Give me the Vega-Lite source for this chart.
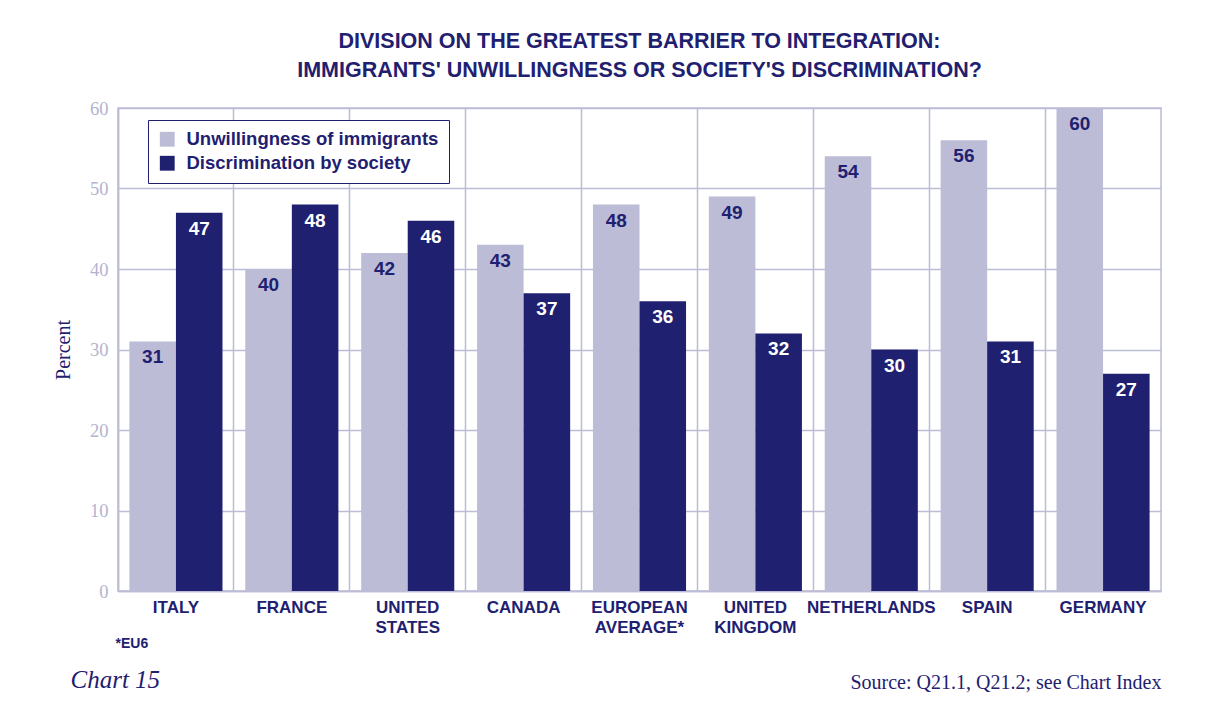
{
  "$schema": "https://vega.github.io/schema/vega-lite/v6.json",
  "width": 1043,
  "height": 483,
  "autosize": {"type": "none"},
  "padding": {"left": 118, "top": 108, "right": 59, "bottom": 120},
  "background": "white",
  "title": {
    "text": ["DIVISION ON THE GREATEST BARRIER TO INTEGRATION:", "IMMIGRANTS' UNWILLINGNESS OR SOCIETY'S DISCRIMINATION?"],
    "font": "Liberation Sans",
    "fontSize": 21.5,
    "fontWeight": "bold",
    "color": "#1f2070",
    "anchor": "middle",
    "lineHeight": 28.5,
    "offset": 18
  },
  "config": {
    "view": {"stroke": "#bcbcd6", "strokeWidth": 1.5},
    "axis": {"gridColor": "#bcbcd6", "gridWidth": 1.5, "gridOpacity": 1}
  },
  "data": {
    "values": [
      {"Country": "ITALY", "Series": "Unwillingness of immigrants", "Value": 31},
      {"Country": "ITALY", "Series": "Discrimination by society", "Value": 47},
      {"Country": "FRANCE", "Series": "Unwillingness of immigrants", "Value": 40},
      {"Country": "FRANCE", "Series": "Discrimination by society", "Value": 48},
      {"Country": "UNITED STATES", "Series": "Unwillingness of immigrants", "Value": 42},
      {"Country": "UNITED STATES", "Series": "Discrimination by society", "Value": 46},
      {"Country": "CANADA", "Series": "Unwillingness of immigrants", "Value": 43},
      {"Country": "CANADA", "Series": "Discrimination by society", "Value": 37},
      {"Country": "EUROPEAN AVERAGE*", "Series": "Unwillingness of immigrants", "Value": 48},
      {"Country": "EUROPEAN AVERAGE*", "Series": "Discrimination by society", "Value": 36},
      {"Country": "UNITED KINGDOM", "Series": "Unwillingness of immigrants", "Value": 49},
      {"Country": "UNITED KINGDOM", "Series": "Discrimination by society", "Value": 32},
      {"Country": "NETHERLANDS", "Series": "Unwillingness of immigrants", "Value": 54},
      {"Country": "NETHERLANDS", "Series": "Discrimination by society", "Value": 30},
      {"Country": "SPAIN", "Series": "Unwillingness of immigrants", "Value": 56},
      {"Country": "SPAIN", "Series": "Discrimination by society", "Value": 31},
      {"Country": "GERMANY", "Series": "Unwillingness of immigrants", "Value": 60},
      {"Country": "GERMANY", "Series": "Discrimination by society", "Value": 27}
    ]
  },
  "resolve": {"axis": {"x": "independent", "y": "independent"}},
  "layer": [
    {
      "mark": {"type": "bar"},
      "encoding": {
        "x": {
          "field": "Country", "type": "nominal", "sort": null,
          "scale": {"paddingInner": 0, "paddingOuter": 0},
          "axis": {
            "orient": "bottom",
            "labelExpr": "split(datum.label, ' ')",
            "labelAngle": 0,
            "labelFont": "Liberation Sans",
            "labelFontSize": 17,
            "labelFontWeight": "bold",
            "labelColor": "#1f2070",
            "labelLineHeight": 20,
            "labelPadding": 8,
            "labelOverlap": false,
            "labelLimit": 300,
            "ticks": false,
            "domainColor": "#bcbcd6",
            "domainWidth": 1.5,
            "grid": true,
            "bandPosition": 0,
            "title": "*EU6",
            "titleFont": "Liberation Sans",
            "titleFontSize": 14,
            "titleFontWeight": "bold",
            "titleColor": "#1f2070",
            "titleAnchor": null,
            "titleAlign": "left",
            "titleBaseline": "alphabetic",
            "titleX": -3,
            "titleY": 56
          }
        },
        "xOffset": {
          "field": "Series", "type": "nominal",
          "sort": ["Unwillingness of immigrants", "Discrimination by society"],
          "scale": {"paddingInner": 0, "paddingOuter": 0.245}
        },
        "y": {
          "field": "Value", "type": "quantitative",
          "scale": {"domain": [0, 60], "nice": false},
          "axis": {
            "values": [0, 10, 20, 30, 40, 50, 60],
            "ticks": false,
            "labelFont": "Liberation Serif",
            "labelFontSize": 18.5,
            "labelColor": "#b3b3cf",
            "labelPadding": 10,
            "domainColor": "#bcbcd6",
            "domainWidth": 1.5,
            "grid": true,
            "title": "Percent",
            "titleFont": "Liberation Serif",
            "titleFontSize": 20,
            "titleFontWeight": "normal",
            "titleColor": "#1f2070",
            "titlePadding": 16
          }
        },
        "color": {
          "field": "Series", "type": "nominal",
          "scale": {"domain": ["Unwillingness of immigrants", "Discrimination by society"], "range": ["#bcbcd6", "#1f2070"]},
          "legend": {
            "title": null,
            "orient": "none",
            "legendX": 30,
            "legendY": 12,
            "direction": "vertical",
            "strokeColor": "#1f2070",
            "fillColor": "white",
            "padding": 10,
            "rowPadding": 5,
            "symbolType": "square",
            "symbolSize": 220,
            "symbolStrokeWidth": 0,
            "symbolOpacity": 1,
            "labelFont": "Liberation Sans",
            "labelFontSize": 18.5,
            "labelFontWeight": "bold",
            "labelColor": "#1f2070",
            "labelOffset": 10,
            "labelLimit": 400
          }
        }
      }
    },
    {
      "mark": {"type": "text", "font": "Liberation Sans", "fontSize": 19, "fontWeight": "bold", "baseline": "middle", "dy": 16},
      "encoding": {
        "x": {
          "field": "Country", "type": "nominal", "sort": null,
          "scale": {"paddingInner": 0, "paddingOuter": 0},
          "axis": {
            "orient": "bottom",
            "labels": false, "ticks": false, "domain": false, "grid": false,
            "title": "Chart 15",
            "titleFont": "Liberation Serif",
            "titleFontSize": 25,
            "titleFontStyle": "italic",
            "titleFontWeight": "normal",
            "titleColor": "#1f2070",
            "titleAnchor": null,
            "titleAlign": "left",
            "titleBaseline": "alphabetic",
            "titleX": -48,
            "titleY": 96
          }
        },
        "xOffset": {
          "field": "Series", "type": "nominal",
          "sort": ["Unwillingness of immigrants", "Discrimination by society"],
          "scale": {"paddingInner": 0, "paddingOuter": 0.245}
        },
        "y": {
          "field": "Value", "type": "quantitative",
          "scale": {"domain": [0, 60], "nice": false},
          "axis": {
            "orient": "right",
            "labels": false, "ticks": false, "domain": false, "grid": false,
            "title": "Source: Q21.1, Q21.2; see Chart Index",
            "titleFont": "Liberation Serif",
            "titleFontSize": 20,
            "titleFontWeight": "normal",
            "titleColor": "#1f2070",
            "titleAngle": 0,
            "titleAnchor": null,
            "titleAlign": "right",
            "titleBaseline": "alphabetic",
            "titleX": 0,
            "titleY": 580
          }
        },
        "text": {"field": "Value", "type": "quantitative"},
        "color": {
          "condition": {"test": "datum.Series === 'Discrimination by society'", "value": "white"},
          "value": "#1f2070"
        }
      }
    }
  ]
}
